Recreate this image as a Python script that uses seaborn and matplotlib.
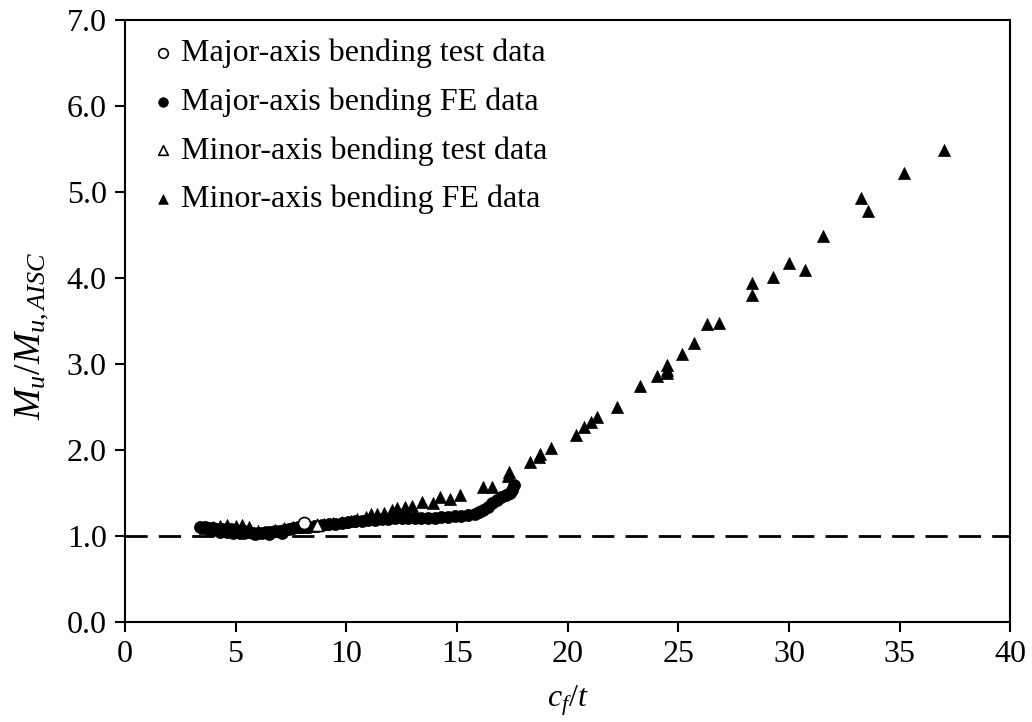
import numpy as np
import pandas as pd
import matplotlib
matplotlib.use("Agg")
import matplotlib.pyplot as plt
import seaborn as sns

# ---- data ----
major_test_x = [8.1]
major_test_y = [1.15]

major_fe_x = [3.4, 3.6, 3.8, 4.0, 4.2, 4.4, 4.6, 4.8, 5.0, 5.2, 5.4, 5.6, 5.8, 6.0, 6.2,
              6.4, 6.6, 6.8, 7.0, 7.2, 7.4, 7.6, 7.8, 8.0, 8.3, 8.6, 8.9, 9.2, 9.5, 9.8,
              10.1, 10.4, 10.7, 11.0, 11.3, 11.6, 11.9, 12.2, 12.5, 12.8, 13.1, 13.4,
              13.7, 14.0, 14.3, 14.6, 14.9, 15.2, 15.5, 15.8, 16.0, 16.2, 16.4, 16.6,
              16.8, 17.0, 17.2, 17.4, 17.5, 17.6,
              4.3, 4.9, 5.4, 5.9, 6.5, 7.1, 3.9, 4.6, 5.2]
major_fe_y = [1.10, 1.10, 1.09, 1.09, 1.08, 1.08, 1.07, 1.08, 1.07, 1.06, 1.06, 1.05, 1.04,
              1.04, 1.04, 1.05, 1.05, 1.06, 1.06, 1.07, 1.08, 1.09, 1.10, 1.10, 1.11, 1.12,
              1.13, 1.14, 1.14, 1.15, 1.16, 1.17, 1.18, 1.19, 1.19, 1.20, 1.20, 1.21, 1.21,
              1.21, 1.21, 1.21, 1.21, 1.21, 1.22, 1.22, 1.23, 1.23, 1.24, 1.26, 1.28, 1.30,
              1.34, 1.38, 1.42, 1.45, 1.48, 1.50, 1.53, 1.59,
              1.05, 1.04, 1.03, 1.02, 1.02, 1.03, 1.06, 1.05, 1.04]

minor_test_x = [8.7]
minor_test_y = [1.13]

minor_fe_x = [3.6, 4.0, 4.3, 4.6, 5.0, 5.3, 5.6, 6.0, 6.3, 6.8, 7.2, 7.6, 8.0, 8.5, 9.0,
              9.4, 9.8, 10.2, 10.5, 10.9, 11.1, 11.4, 11.7, 12.05, 12.3, 12.66, 12.95,
              13.44, 13.94, 14.24, 14.69, 15.14, 16.2, 16.57, 17.33, 17.37, 18.28, 18.7,
              18.76, 19.24, 20.37, 20.72, 21.06, 21.31, 22.22, 23.25, 24.02, 24.51, 24.51,
              24.51, 25.19, 25.73, 26.29, 26.86, 28.34, 28.34, 29.26, 29.98, 30.73, 31.56,
              33.27, 33.56, 35.18, 36.99]
minor_fe_y = [1.09, 1.10, 1.12, 1.13, 1.12, 1.13, 1.11, 1.06, 1.05, 1.07, 1.09, 1.10, 1.11,
              1.12, 1.14, 1.15, 1.16, 1.18, 1.20, 1.22, 1.26, 1.26, 1.27, 1.30, 1.32, 1.34,
              1.35, 1.39, 1.38, 1.45, 1.43, 1.48, 1.57, 1.57, 1.70, 1.74, 1.86, 1.92, 1.95,
              2.02, 2.18, 2.27, 2.33, 2.38, 2.50, 2.74, 2.86, 2.89, 2.93, 2.99, 3.12, 3.24,
              3.47, 3.48, 3.80, 3.94, 4.01, 4.18, 4.09, 4.49, 4.93, 4.78, 5.22, 5.49]

labels = ["Major-axis bending test data", "Major-axis bending FE data",
          "Minor-axis bending test data", "Minor-axis bending FE data"]
x_ticks = [0, 5, 10, 15, 20, 25, 30, 35, 40]
y_ticks = [0.0, 1.0, 2.0, 3.0, 4.0, 5.0, 6.0, 7.0]
ref_line = 1.0

# ---- styling ----
sns.set_theme(style="ticks")
plt.rcParams['font.family'] = ['Liberation Serif', 'DejaVu Serif']
plt.rcParams['mathtext.fontset'] = 'custom'
plt.rcParams['mathtext.rm'] = 'Liberation Serif'
plt.rcParams['mathtext.it'] = 'Liberation Serif:italic'
for k in ['text.color', 'axes.labelcolor', 'xtick.color', 'ytick.color', 'axes.edgecolor']:
    plt.rcParams[k] = 'black'

FS = 23

fig = plt.figure(figsize=(10.32, 7.22), dpi=100)
ax = fig.add_axes([0.121, 0.1385, 0.858, 0.8338])

df_mj_fe = pd.DataFrame({"x": major_fe_x, "y": major_fe_y})
df_mn_fe = pd.DataFrame({"x": minor_fe_x, "y": minor_fe_y})
df_mj_t = pd.DataFrame({"x": major_test_x, "y": major_test_y})
df_mn_t = pd.DataFrame({"x": minor_test_x, "y": minor_test_y})

ms = 75
sns.scatterplot(data=df_mj_t, x="x", y="y", marker="o", s=ms, facecolor="white",
                edgecolor="black", linewidth=1.2, label=labels[0], ax=ax, zorder=5)
sns.scatterplot(data=df_mj_fe, x="x", y="y", marker="o", s=ms, color="black",
                edgecolor="black", linewidth=0.5, label=labels[1], ax=ax, zorder=3)
sns.scatterplot(data=df_mn_t, x="x", y="y", marker="^", s=ms, facecolor="white",
                edgecolor="black", linewidth=1.2, label=labels[2], ax=ax, zorder=5)
sns.scatterplot(data=df_mn_fe, x="x", y="y", marker="^", s=ms, color="black",
                edgecolor="black", linewidth=0.5, label=labels[3], ax=ax, zorder=4)

ax.axhline(ref_line, color="black", linewidth=2.0, dashes=(8, 4), zorder=2)

ax.set_xlim(0, 40)
ax.set_ylim(0, 7)
ax.set_xticks(x_ticks)
ax.set_xticklabels([str(t) for t in x_ticks], fontsize=FS)
ax.set_yticks(y_ticks)
ax.set_yticklabels([f"{t:.1f}" for t in y_ticks], fontsize=FS)
ax.tick_params(direction="out", length=7, width=1.5, colors="black", pad=6)

for sp in ax.spines.values():
    sp.set_visible(True)
    sp.set_linewidth(1.5)
    sp.set_color("black")

ax.set_xlabel("$c_f/t$", fontsize=FS, labelpad=10)
ax.set_ylabel("$M_u/M_{u,AISC}$", fontsize=27)
ax.yaxis.set_label_coords(-0.083, 0.475)

leg = ax.legend(loc="upper left", frameon=False, fontsize=FS, markerscale=0.8,
                handlelength=1.0, handletextpad=0.05, labelspacing=0.6,
                borderaxespad=0.3, bbox_to_anchor=(0.0, 1.006))

fig.savefig("out.png", dpi=100)
